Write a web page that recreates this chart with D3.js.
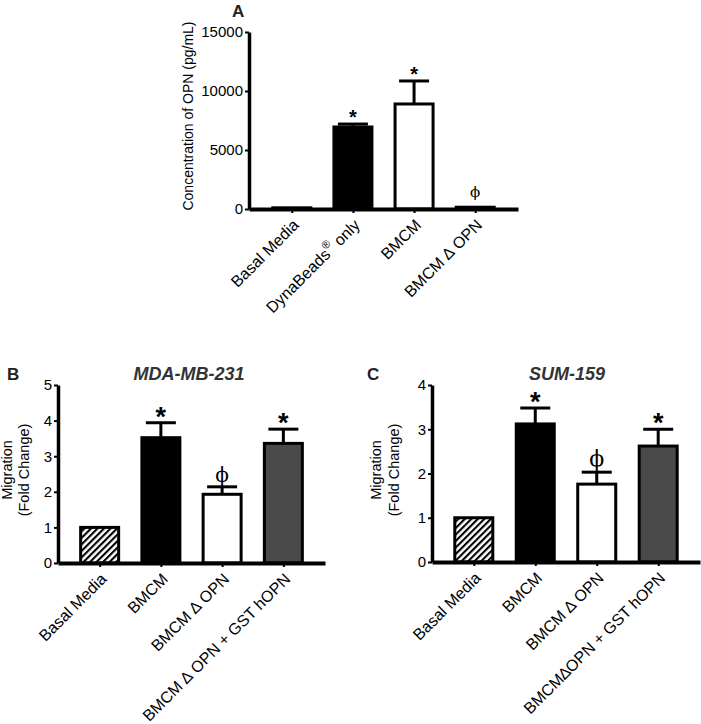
<!DOCTYPE html>
<html>
<head>
<meta charset="utf-8">
<script src="https://cdn.jsdelivr.net/npm/d3@7"></script>
<style>
  body { margin: 0; background: #fff; }
  text { font-family: "Liberation Sans", Arial, sans-serif; fill: #000; }
</style>
</head>
<body>
<script>
const width = 701;
const height = 724;

// panel A - OPN concentration
const catsA = ['Basal Media', 'DynaBeads', 'BMCM', 'BMCM \u2206 OPN'];
const valsA = [100, 6950, 8900, 150];
const errA = [0, 250, 1950, 0];
const marksA = ['', '*', '*', '\u03d5'];
const fillA = ['white', 'black', 'white', 'white'];
const ticksA = [0, 5000, 10000, 15000];

// panel B - MDA-MB-231 migration
const catsB = ['Basal Media', 'BMCM', 'BMCM \u2206 OPN', 'BMCM \u2206 OPN + GST hOPN'];
const valsB = [1, 3.52, 1.93, 3.36];
const errB = [0, 0.42, 0.21, 0.40];
const marksB = ['', '*', '\u03d5', '*'];
const ticksB = [0, 1, 2, 3, 4, 5];

// panel C - SUM-159 migration
const catsC = ['Basal Media', 'BMCM', 'BMCM \u2206 OPN', 'BMCM\u2206OPN + GST hOPN'];
const valsC = [1, 3.12, 1.76, 2.62];
const errC = [0, 0.36, 0.27, 0.38];
const marksC = ['', '*', '\u03d5', '*'];
const ticksC = [0, 1, 2, 3, 4];

const fillBC = ['url(#hatch)', 'black', 'white', '#4a4a4a'];

const svg = d3.select("body")
    .append("svg")
    .attr("width", width)
    .attr("height", height);

const pat = svg.append('defs').append('pattern')
    .attr('id', 'hatch')
    .attr('patternUnits', 'userSpaceOnUse')
    .attr('width', 4.6)
    .attr('height', 4.6)
    .attr('patternTransform', 'rotate(45)');
pat.append('rect').attr('width', 4.6).attr('height', 4.6).attr('fill', 'white');
pat.append('rect').attr('x', 0).attr('width', 2.1).attr('height', 4.6).attr('fill', 'black');

function panel(p) {
    const g = svg.append('g');

    let x = d3.scalePoint()
        .domain(d3.range(p.cats.length))
        .range([p.left, p.right])
        .padding(p.pad);

    let y = d3.scaleLinear()
        .domain(p.domain)
        .range([p.bottom, p.top]);

    // bars
    g.selectAll('rect.bar')
        .data(p.vals)
        .enter()
        .append('rect')
        .attr('class', 'bar')
        .attr('x', (d, i) => x(i) - p.bw / 2)
        .attr('width', p.bw)
        .attr('y', d => y(d))
        .attr('height', d => y(0) - y(d))
        .attr('fill', (d, i) => p.fills[i])
        .attr('stroke', 'black')
        .attr('stroke-width', 3);

    // error bars (upper only)
    p.vals.forEach((d, i) => {
        if (!p.err[i]) return;
        g.append('line')
            .attr('x1', x(i)).attr('x2', x(i))
            .attr('y1', y(d)).attr('y2', y(d + p.err[i]))
            .attr('stroke', 'black').attr('stroke-width', 3);
        g.append('line')
            .attr('x1', x(i) - p.cap / 2).attr('x2', x(i) + p.cap / 2)
            .attr('y1', y(d + p.err[i])).attr('y2', y(d + p.err[i]))
            .attr('stroke', 'black').attr('stroke-width', 3);
    });

    // significance marks
    p.marks.forEach((m, i) => {
        if (!m) return;
        let top = y(p.vals[i] + p.err[i]) - (p.err[i] ? 0 : 2);
        if (m === '*') {
            g.append('text')
                .attr('x', x(i))
                .attr('y', top + p.starDy)
                .attr('text-anchor', 'middle')
                .style('font-size', p.starSize + 'px')
                .style('font-weight', 'bold')
                .text('*');
        } else {
            g.append('text')
                .attr('x', x(i))
                .attr('y', top + p.phiDy)
                .attr('text-anchor', 'middle')
                .style('font-family', '"DejaVu Serif", "Liberation Serif", serif')
                .style('font-size', p.phiSize + 'px')
                .style('fill', '#000')
                .text(m);
        }
    });

    // y axis
    let yAxis = d3.axisLeft(y)
        .tickValues(p.ticks)
        .tickSize(4)
        .tickSizeOuter(0)
        .tickPadding(2)
        .tickFormat(d3.format('d'));
    let ya = g.append('g')
        .attr('transform', `translate(${p.left}, 0)`)
        .call(yAxis);
    ya.select('.domain').attr('stroke-width', 3.5);
    ya.selectAll('.tick line').attr('stroke-width', 2);
    ya.selectAll('.tick text')
        .style('font-size', '15px')
        .style('font-family', '"Liberation Sans", Arial, sans-serif');

    // x axis
    let xAxis = d3.axisBottom(x)
        .tickSize(4)
        .tickSizeOuter(0)
        .tickFormat('');
    let xa = g.append('g')
        .attr('transform', `translate(0, ${p.bottom})`)
        .call(xAxis);
    xa.select('.domain').attr('stroke-width', 4);
    xa.selectAll('.tick line').attr('stroke-width', 2);

    // rotated category labels
    p.cats.forEach((c, i) => {
        let t = g.append('text')
            .attr('transform', `translate(${x(i) + 8}, ${p.bottom + 17}) rotate(-45)`)
            .attr('text-anchor', 'end')
            .style('font-size', '16px');
        if (c === 'DynaBeads') {
            t.append('tspan').text('DynaBeads');
            t.append('tspan').attr('dy', -8).style('font-size', '11px').text('\u00ae');
            t.append('tspan').attr('dy', 8).text(' only');
        } else {
            t.text(c);
        }
    });

    // y axis title
    p.ytitle.forEach((s, k) => {
        g.append('text')
            .attr('transform', `translate(${p.titleX[k]}, ${p.titleY}) rotate(-90)`)
            .attr('text-anchor', 'middle')
            .style('font-size', p.titleSize + 'px')
            .text(s);
    });

    // panel letter and heading
    g.append('text')
        .attr('x', p.letter[1]).attr('y', p.letter[2])
        .style('font-size', '17px').style('font-weight', 'bold')
        .style('fill', '#222')
        .text(p.letter[0]);
    if (p.heading) {
        g.append('text')
            .attr('x', p.heading[1]).attr('y', 380)
            .attr('text-anchor', 'middle')
            .style('font-size', '18px').style('font-weight', 'bold')
            .style('font-style', 'italic').style('fill', '#333')
            .text(p.heading[0]);
    }
}

panel({
    cats: catsA, vals: valsA, err: errA, marks: marksA, fills: fillA, ticks: ticksA,
    domain: [0, 15000], left: 249, right: 518, top: 32, bottom: 209, pad: 0.7,
    bw: 38, cap: 30, starSize: 20, starDy: 0, phiSize: 15, phiDy: -8,
    ytitle: ['Concentration of OPN (pg/mL)'], titleX: [193], titleY: 116, titleSize: 14,
    letter: ['A', 232, 17]
});

panel({
    cats: catsB, vals: valsB, err: errB, marks: marksB, fills: fillBC, ticks: ticksB,
    domain: [0, 5], left: 58, right: 325, top: 385, bottom: 563, pad: 0.68,
    bw: 38, cap: 30, starSize: 27, starDy: 3, phiSize: 20, phiDy: -5,
    ytitle: ['Migration', '(Fold Change)'], titleX: [12, 29], titleY: 470, titleSize: 14.5,
    letter: ['B', 7, 380], heading: ['MDA-MB-231', 189]
});

panel({
    cats: catsC, vals: valsC, err: errC, marks: marksC, fills: fillBC, ticks: ticksC,
    domain: [0, 4], left: 432, right: 700, top: 385, bottom: 562, pad: 0.68,
    bw: 38, cap: 30, starSize: 27, starDy: 3, phiSize: 22, phiDy: -6,
    ytitle: ['Migration', '(Fold Change)'], titleX: [381, 399], titleY: 470, titleSize: 14.5,
    letter: ['C', 367, 380], heading: ['SUM-159', 567]
});
</script>
</body>
</html>
